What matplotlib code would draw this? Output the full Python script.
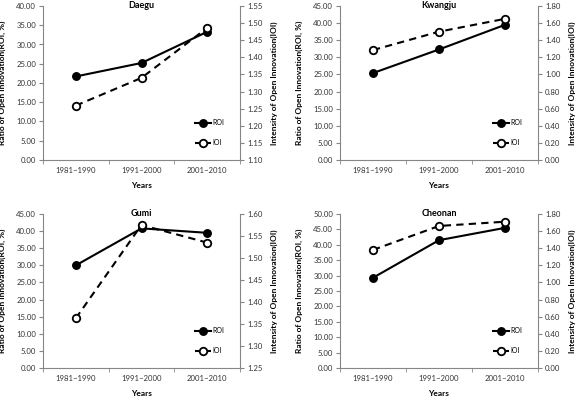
import matplotlib
matplotlib.use("Agg")
import matplotlib.pyplot as plt
import numpy as np

plt.rcParams['font.family'] = ['Lato', 'DejaVu Sans']

periods = ["1981~1990", "1991~2000", "2001~2010"]
cities = ["Daegu", "Kwangju", "Gumi", "Cheonan"]

# ratio of open innovation (ROI, %), left axis
roi_daegu = [21.7, 25.2, 33.3]
roi_kwangju = [25.4, 32.3, 39.5]
roi_gumi = [30.0, 40.8, 39.5]
roi_cheonan = [29.3, 41.5, 45.5]

# intensity of open innovation (IOI), right axis
ioi_daegu = [1.259, 1.340, 1.486]
ioi_kwangju = [1.285, 1.500, 1.650]
ioi_gumi = [1.363, 1.575, 1.535]
ioi_cheonan = [1.38, 1.66, 1.71]

# axis ranges: (min, max, step)
roi_axes = [(0, 40, 5), (0, 45, 5), (0, 45, 5), (0, 50, 5)]
ioi_axes = [(1.10, 1.55, 0.05), (0.0, 1.80, 0.20), (1.25, 1.60, 0.05), (0.0, 1.80, 0.20)]

roi_all = [roi_daegu, roi_kwangju, roi_gumi, roi_cheonan]
ioi_all = [ioi_daegu, ioi_kwangju, ioi_gumi, ioi_cheonan]

W, H = 576, 396
fig = plt.figure(figsize=(W / 100, H / 100), dpi=100)
fig.patch.set_facecolor('white')


def box(l, r, t, b):
    return [l / W, 1 - b / H, (r - l) / W, (b - t) / H]


# pixel boxes for the four panels (left, right, top, bottom)
panels = [(43, 240, 6, 160), (340, 538, 6, 160),
          (43, 240, 214, 368), (340, 538, 214, 368)]

grey = '#868686'
tick_col = '#333333'
fs_tick = 5.6
fs_lab = 6.0

for k in range(4):
    l, r, t, b = panels[k]
    ax = fig.add_axes(box(l, r, t, b))
    ax2 = ax.twinx()
    x = np.arange(len(periods))

    h1, = ax.plot(x, roi_all[k], color='black', lw=1.5, marker='o', ms=5.4,
                  label='ROI')
    h2, = ax2.plot(x, ioi_all[k], color='black', lw=1.5, ls=(0, (3.5, 2.5)),
                   marker='o', ms=5.4, mfc='white', mew=1.3, label='IOI')

    ax.set_xlim(-0.5, 2.5)
    lo, hi, st = roi_axes[k]
    ax.set_ylim(lo, hi)
    ax.set_yticks(np.arange(lo, hi + st / 2, st))
    ax.yaxis.set_major_formatter(plt.FormatStrFormatter('%.2f'))
    lo2, hi2, st2 = ioi_axes[k]
    ax2.set_ylim(lo2, hi2)
    ax2.set_yticks(np.arange(lo2, hi2 + st2 / 2, st2))
    ax2.yaxis.set_major_formatter(plt.FormatStrFormatter('%.2f'))

    ax.set_xticks(x)
    ax.set_xticklabels(periods)
    ax.set_xticks([-0.5, 0.5, 1.5, 2.5], minor=True)
    ax.tick_params(axis='x', which='major', length=0, pad=5,
                   labelsize=fs_tick, labelcolor=tick_col)
    ax.tick_params(axis='x', which='minor', length=3, color=grey)
    ax.tick_params(axis='y', length=3, color=grey, pad=2,
                   labelsize=fs_tick, labelcolor=tick_col)
    ax2.tick_params(axis='y', length=3, color=grey, pad=2,
                    labelsize=fs_tick, labelcolor=tick_col)

    for s in ['top', 'right']:
        ax.spines[s].set_visible(False)
    for s in ['left', 'bottom']:
        ax.spines[s].set_color(grey)
    for s in ['top', 'left', 'bottom']:
        ax2.spines[s].set_visible(False)
    ax2.spines['right'].set_color(grey)

    ax.text(0.5, 1.0, cities[k], transform=ax.transAxes, ha='center',
            va='center', fontsize=6.5, fontweight='bold')

    ax.set_xlabel('Years', fontsize=fs_lab, fontweight='bold', labelpad=6)
    ax.set_ylabel('Ratio of Open Innovation(ROI, %)', fontsize=fs_lab,
                  fontweight='bold')
    ax2.set_ylabel('Intensity of Open Innovation(IOI)', fontsize=fs_lab,
                   fontweight='bold')
    ax.yaxis.set_label_coords(-37 / (r - l), 0.5)
    ax2.yaxis.set_label_coords(1 + 31 / (r - l), 0.5)

    ax2.legend(handles=[h1, h2], loc='lower left',
               bbox_to_anchor=(0.76, 0.07), frameon=False, fontsize=5,
               handlelength=2.2, handletextpad=0.3, labelspacing=1.9,
               borderaxespad=0)

fig.savefig('out.png', dpi=100, facecolor='white')
